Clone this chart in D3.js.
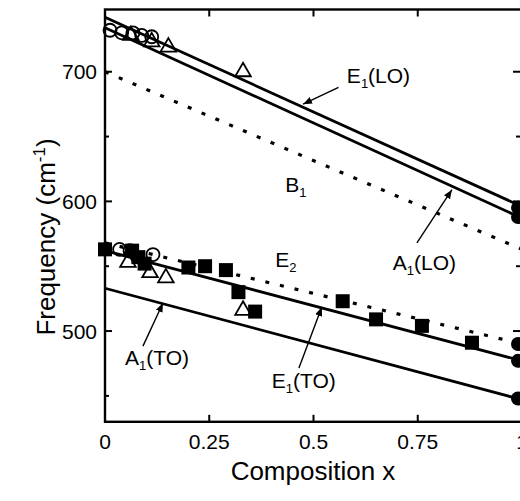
<!DOCTYPE html>
<html>
  <head>
    <meta charset="utf-8">
    <style>
      body { margin: 0; background: #fff; }
      text { font-family: "Liberation Sans", Arial, sans-serif; fill: #000; }
    </style>
  </head>
  <body>
    <script src="https://cdn.jsdelivr.net/npm/d3@7"></script>
    <script>
      // fitted lines: value at x = 0 and at x = 1
      var lineNames = ['E1(LO)', 'A1(LO)', 'B1', 'E2', 'E1(TO)', 'A1(TO)'];
      var lineStart = [742, 734, 700, 568, 562, 533];
      var lineEnd   = [596, 587, 563, 490, 477, 447];
      var lineDotted = [false, false, true, true, false, false];

      // measured points
      var sqX = [0, 0.065, 0.08, 0.095, 0.2, 0.24, 0.29, 0.32, 0.36, 0.57, 0.65, 0.76, 0.88];
      var sqY = [563, 562, 557, 552, 549, 550, 547, 530, 515, 523, 509, 504, 491];
      var dotX = [1, 1, 1, 1, 1];
      var dotY = [595, 588, 490, 477, 448];
      var ocX = [0.012, 0.04, 0.067, 0.088, 0.112, 0.035, 0.06, 0.115];
      var ocY = [732, 730, 730, 728, 727, 563, 562, 559];
      var triX = [0.062, 0.112, 0.152, 0.331, 0.055, 0.108, 0.146, 0.331];
      var triY = [728, 723, 719, 700, 553, 545, 541, 516];

      var xTicks = [0, 0.25, 0.5, 0.75, 1];
      var xTickLabels = ['0', '0.25', '0.5', '0.75', '1'];
      var yTicks = [500, 600, 700];
      var yMinor = [450, 550, 650];

      var W = 520, H = 501;
      var x = d3.scaleLinear().domain([0, 1]).range([105, 522]);
      var y = d3.scaleLinear().domain([430, 748]).range([421.8, 9.5]);

      var svg = d3.select('body').append('svg')
        .attr('width', W).attr('height', H);

      svg.append('defs').append('marker')
        .attr('id', 'head')
        .attr('viewBox', '0 0 10 10')
        .attr('refX', 10).attr('refY', 5)
        .attr('markerWidth', 9).attr('markerHeight', 9)
        .attr('markerUnits', 'userSpaceOnUse')
        .attr('orient', 'auto')
        .append('path').attr('d', 'M0,1 L10,5 L0,9 Z');

      var x0 = x.range()[0], x1 = x.range()[1];
      var y0 = y.range()[0], y1 = y.range()[1];

      // frame
      svg.append('rect')
        .attr('x', x0).attr('y', y1)
        .attr('width', x1 - x0).attr('height', y0 - y1)
        .attr('fill', 'none').attr('stroke', '#000').attr('stroke-width', 2.4);

      // inward ticks on all four sides
      var tk = svg.append('g').attr('stroke', '#000').attr('stroke-width', 2);
      xTicks.slice(1, 4).forEach(function (t) {
        tk.append('line').attr('x1', x(t)).attr('x2', x(t)).attr('y1', y0).attr('y2', y0 - 7);
        tk.append('line').attr('x1', x(t)).attr('x2', x(t)).attr('y1', y1).attr('y2', y1 + 7);
      });
      yTicks.forEach(function (t) {
        tk.append('line').attr('x1', x0).attr('x2', x0 + 7).attr('y1', y(t)).attr('y2', y(t));
        tk.append('line').attr('x1', x1).attr('x2', x1 - 9).attr('y1', y(t)).attr('y2', y(t));
      });
      yMinor.forEach(function (t) {
        tk.append('line').attr('x1', x0).attr('x2', x0 + 4).attr('y1', y(t)).attr('y2', y(t));
        tk.append('line').attr('x1', x1).attr('x2', x1 - 6).attr('y1', y(t)).attr('y2', y(t));
      });

      svg.selectAll('.xl').data(xTicks).enter().append('text')
        .attr('x', function (d) { return x(d); })
        .attr('y', 449)
        .attr('text-anchor', 'middle')
        .style('font-size', '21px')
        .text(function (d, i) { return xTickLabels[i]; });

      svg.selectAll('.yl').data(yTicks).enter().append('text')
        .attr('x', 97)
        .attr('y', function (d) { return y(d) + 7.5; })
        .attr('text-anchor', 'end')
        .style('font-size', '21px')
        .text(function (d) { return d; });

      svg.append('text')
        .attr('x', 313).attr('y', 480)
        .attr('text-anchor', 'middle')
        .style('font-size', '26px')
        .text('Composition x');

      var yt = svg.append('text')
        .attr('transform', 'translate(55,237) rotate(-90)')
        .attr('text-anchor', 'middle')
        .style('font-size', '26px');
      yt.append('tspan').text('Frequency (cm');
      yt.append('tspan').attr('dy', -10).style('font-size', '17px').text('-1');
      yt.append('tspan').attr('dy', 10).text(')');

      // fitted lines
      var plot = svg.append('g');
      lineNames.forEach(function (n, i) {
        plot.append('line')
          .attr('x1', x(0)).attr('y1', y(lineStart[i]))
          .attr('x2', x(1)).attr('y2', y(lineEnd[i]))
          .attr('stroke', '#000')
          .attr('stroke-width', lineDotted[i] ? 3.2 : 2.8)
          .attr('stroke-dasharray', lineDotted[i] ? '4 11' : null);
      });

      // markers
      plot.selectAll('.sq').data(sqX).enter().append('rect')
        .attr('x', function (d) { return x(d) - 7; })
        .attr('y', function (d, i) { return y(sqY[i]) - 7; })
        .attr('width', 14).attr('height', 14)
        .attr('fill', '#000');

      plot.selectAll('.dot').data(dotX).enter().append('circle')
        .attr('cx', function (d) { return x(d) - 4; })
        .attr('cy', function (d, i) { return y(dotY[i]); })
        .attr('r', 7).attr('fill', '#000');

      plot.selectAll('.oc').data(ocX).enter().append('circle')
        .attr('cx', function (d) { return x(d); })
        .attr('cy', function (d, i) { return y(ocY[i]); })
        .attr('r', 6.5)
        .attr('fill', 'none').attr('stroke', '#000').attr('stroke-width', 1.8);

      var tri = d3.symbol().type(d3.symbolTriangle).size(105);
      plot.selectAll('.tri').data(triX).enter().append('path')
        .attr('d', tri)
        .attr('transform', function (d, i) { return 'translate(' + x(d) + ',' + y(triY[i]) + ')'; })
        .attr('fill', 'none').attr('stroke', '#000').attr('stroke-width', 1.8);

      // labels with arrows (data coords)
      var labels = [
        { t: 'E', s: '1', r: '(LO)', x: 0.58, y: 691.3, ax: [0.56, 688], ah: [0.475, 675] },
        { t: 'B', s: '1', r: '', x: 0.432, y: 607, ax: null },
        { t: 'A', s: '1', r: '(LO)', x: 0.69, y: 547, ax: [0.748, 568], ah: [0.832, 609] },
        { t: 'E', s: '2', r: '', x: 0.408, y: 549.5, ax: null },
        { t: 'A', s: '1', r: '(TO)', x: 0.048, y: 474, ax: [0.091, 488.4], ah: [0.139, 521.6] },
        { t: 'E', s: '1', r: '(TO)', x: 0.40, y: 456, ax: [0.465, 471.5], ah: [0.52, 518.5] }
      ];
      labels.forEach(function (l) {
        var t = svg.append('text')
          .attr('x', x(l.x)).attr('y', y(l.y))
          .style('font-size', '21px');
        t.append('tspan').text(l.t);
        t.append('tspan').attr('dy', 5).style('font-size', '13px').text(l.s);
        t.append('tspan').attr('dy', -5).text(l.r);
        if (l.ax) {
          svg.append('line')
            .attr('x1', x(l.ax[0])).attr('y1', y(l.ax[1]))
            .attr('x2', x(l.ah[0])).attr('y2', y(l.ah[1]))
            .attr('stroke', '#000').attr('stroke-width', 1.4)
            .attr('marker-end', 'url(#head)');
        }
      });
    </script>
  </body>
</html>
